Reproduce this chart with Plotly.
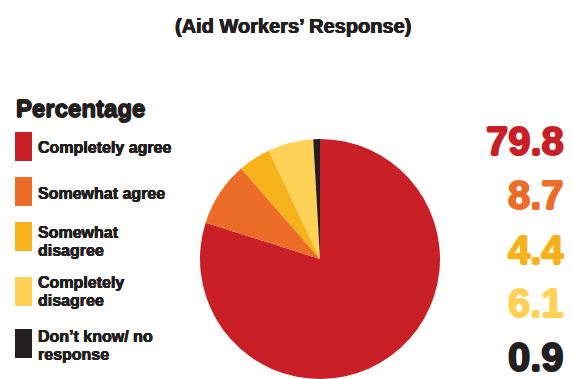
import plotly.graph_objects as go

# Survey answers and their shares (%)
categories = ["Completely agree", "Somewhat agree", "Somewhat\ndisagree",
              "Completely\ndisagree", "Don\u2019t know/ no\nresponse"]
values = [79.8, 8.7, 4.4, 6.1, 0.9]
colors = ["#C91F26", "#EC6D27", "#F6B21B", "#FDD257", "#231F20"]

W, H = 572, 379


def px(x):
    return x / W


def py(y):
    return 1 - y / H


def heavy(color, d=0.8):
    # thicken a bold face with a tight same-colour outline
    return (f"{d}px 0 0 {color}, -{d}px 0 0 {color}, "
            f"0 {d}px 0 {color}, 0 -{d}px 0 {color}")


fig = go.Figure()
fig.add_trace(go.Pie(
    labels=[c.replace("\n", " ") for c in categories],
    values=values,
    marker=dict(colors=colors, line=dict(width=0)),
    sort=False,
    direction="clockwise",
    rotation=0,
    textinfo="none",
    hoverinfo="label+percent",
    showlegend=False,
    domain=dict(x=[px(199), px(441)], y=[0, py(139)]),
))

annotations = []
shapes = []

# Subtitle
annotations.append(dict(
    text="<b>(Aid Workers\u2019 Response)</b>", x=px(293), y=py(26),
    xanchor="center", yanchor="middle", showarrow=False,
    font=dict(family="Liberation Sans, Arial", size=20, color="#231F20",
              shadow=heavy("#231F20", 0.4)),
))

# Legend heading
annotations.append(dict(
    text="<b>Percentage</b>", x=px(14), y=py(108),
    xanchor="left", yanchor="middle", showarrow=False,
    font=dict(family="Liberation Sans, Arial", size=24, color="#231F20",
              shadow=heavy("#231F20", 0.7)),
))

# Legend swatches and labels (one annotation per text line)
swatch_tops = [132, 177, 222, 277, 329]
label_rows = [[147], [193], [232, 250], [282, 300], [336, 354]]
for cat, col, top, rows in zip(categories, colors, swatch_tops, label_rows):
    shapes.append(dict(
        type="rect", xref="paper", yref="paper",
        x0=px(15), x1=px(32), y0=py(top + 29), y1=py(top),
        fillcolor=col, line=dict(width=0),
    ))
    for ln, yc in zip(cat.split("\n"), rows):
        annotations.append(dict(
            text="<b>" + ln + "</b>",
            x=px(36), y=py(yc),
            xanchor="left", yanchor="middle", align="left", showarrow=False,
            font=dict(family="Liberation Sans, Arial", size=16, color="#231F20",
                      shadow=heavy("#231F20", 0.3)),
        ))

# Values column on the right
value_centers = [141, 195, 250, 303, 357]
for v, col, yc in zip(values, colors, value_centers):
    annotations.append(dict(
        text=f"<b>{v:.1f}</b>", x=px(566), y=py(yc),
        xanchor="right", yanchor="middle", showarrow=False,
        font=dict(family="Liberation Sans, Arial", size=40, color=col,
                  shadow=heavy(col, 1.0)),
    ))

fig.update_layout(
    width=W, height=H,
    margin=dict(l=0, r=0, t=0, b=0),
    paper_bgcolor="white", plot_bgcolor="white",
    annotations=annotations, shapes=shapes,
)

fig.write_html("out.html")
